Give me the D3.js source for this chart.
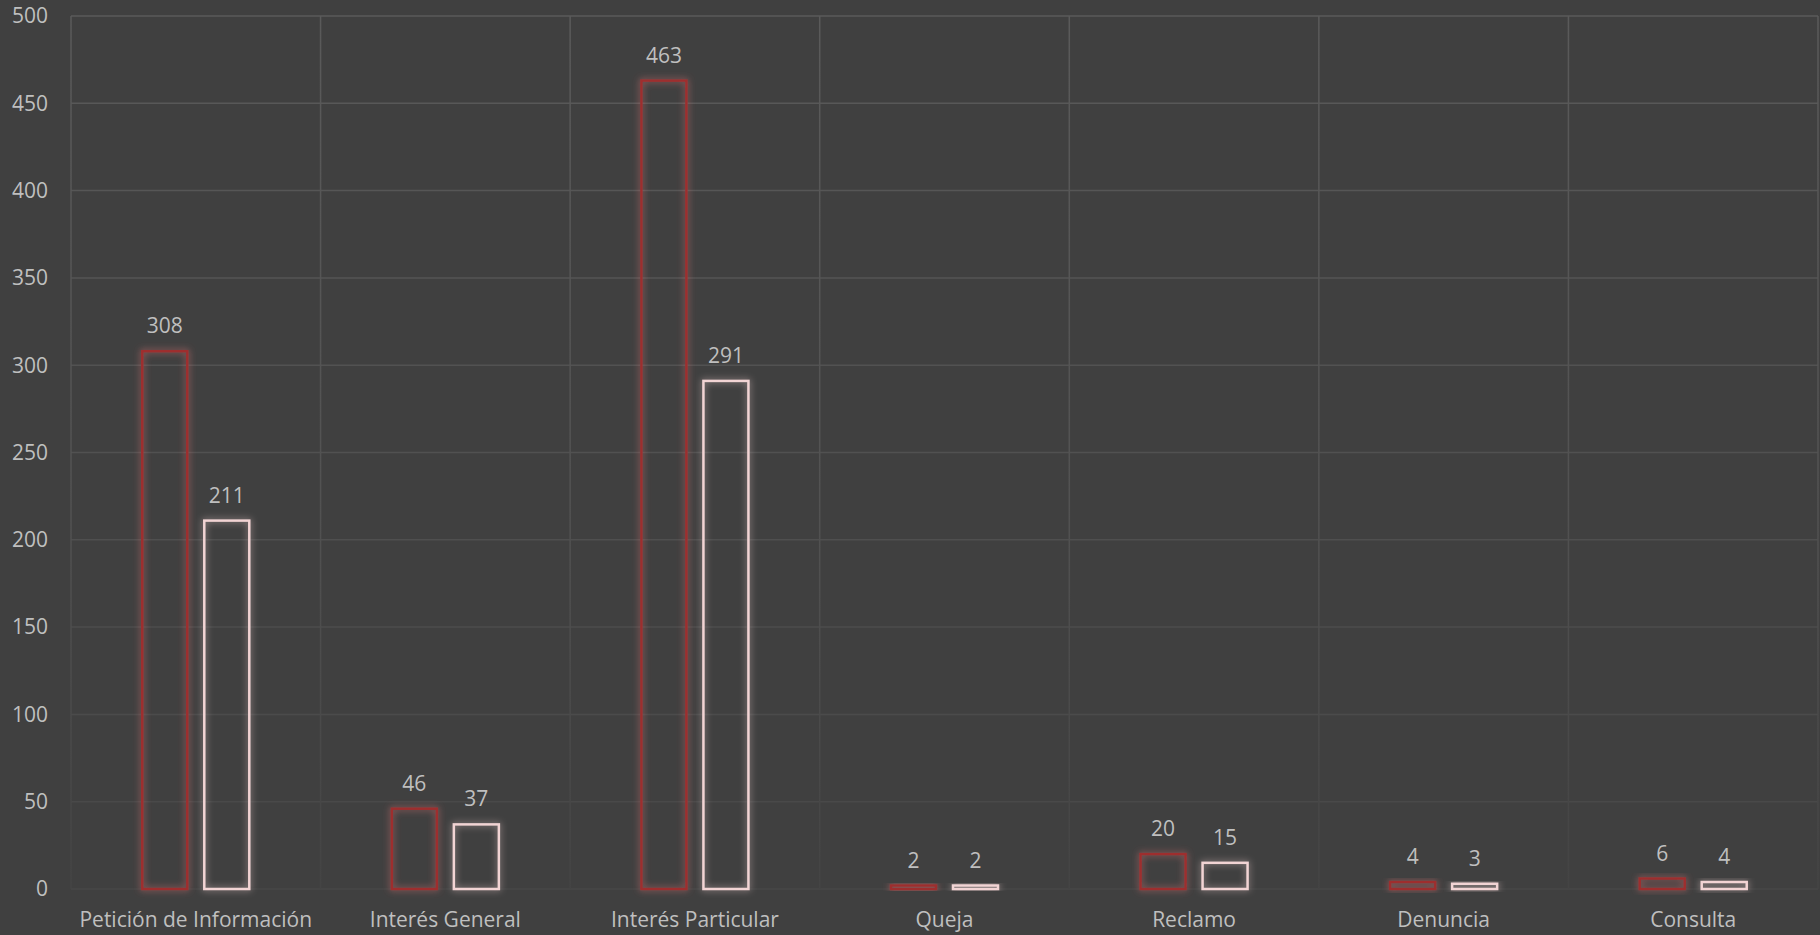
<!DOCTYPE html>
<html>
<head>
<meta charset="utf-8">
<script src="https://cdn.jsdelivr.net/npm/d3@7"></script>
<style>
    html, body { margin: 0; padding: 0; background: #404040; }
    svg { display: block; }
    text { font-family: "Open Sans", Lato, sans-serif; fill: #bfbfbf; }
</style>
</head>
<body>
<script>
    'use strict';

    var categories = ['Petición de Información', 'Interés General', 'Interés Particular',
                      'Queja', 'Reclamo', 'Denuncia', 'Consulta'],
        seriesA = [308, 46, 463, 2, 20, 4, 6],
        seriesB = [211, 37, 291, 2, 15, 3, 4],
        yTicks = [0, 50, 100, 150, 200, 250, 300, 350, 400, 450, 500];

    var width = 1820,
        height = 935,
        margin = { top: 16, right: 2, bottom: 46, left: 71 },
        barWidth = 45,
        barGap = 17,
        fontSize = 21;

    var svg = d3.select('body').append('svg')
        .attr('width', width)
        .attr('height', height);

    var defs = svg.append('defs');

    function glow(id, color) {
        var f = defs.append('filter')
            .attr('id', id)
            .attr('x', '-50%').attr('y', '-50%')
            .attr('width', '200%').attr('height', '200%');
        f.append('feGaussianBlur')
            .attr('in', 'SourceGraphic')
            .attr('stdDeviation', 3.5)
            .attr('result', 'blur');
        f.append('feColorMatrix')
            .attr('in', 'blur')
            .attr('type', 'matrix')
            .attr('values', '0 0 0 0 ' + color[0] + ' 0 0 0 0 ' + color[1] + ' 0 0 0 0 ' + color[2] + ' 0 0 0 0.9 0')
            .attr('result', 'glow');
        var m = f.append('feMerge');
        m.append('feMergeNode').attr('in', 'glow');
        m.append('feMergeNode').attr('in', 'SourceGraphic');
    }
    glow('glowRed', [0.6, 0.15, 0.15]);
    glow('glowPink', [0.55, 0.42, 0.42]);

    var grad = defs.append('linearGradient')
        .attr('id', 'gridFade')
        .attr('gradientUnits', 'userSpaceOnUse')
        .attr('x1', 0).attr('y1', margin.top)
        .attr('x2', 0).attr('y2', height - margin.bottom);
    grad.append('stop').attr('offset', 0).attr('stop-color', '#5a5a5a');
    grad.append('stop').attr('offset', 0.55).attr('stop-color', '#525252');
    grad.append('stop').attr('offset', 1).attr('stop-color', '#444444');

    var x = d3.scaleBand()
        .domain(categories)
        .range([margin.left, width - margin.right]);

    var y = d3.scaleLinear()
        .domain([0, 500])
        .range([height - margin.bottom, margin.top]);

    // Grid
    var grid = svg.append('g').attr('stroke-width', 1.5);

    grid.selectAll('.hline')
        .data(yTicks)
        .enter()
        .append('line')
        .attr('x1', margin.left)
        .attr('x2', width - margin.right)
        .attr('y1', function (d) { return y(d); })
        .attr('y2', function (d) { return y(d); })
        .attr('stroke', function (d) {
            var t = d / 500;
            return d3.interpolateRgb('#474747', '#5a5a5a')(t);
        });

    grid.selectAll('.vline')
        .data(categories.concat(['__end']))
        .enter()
        .append('line')
        .attr('x1', function (d, i) { return margin.left + i * x.bandwidth(); })
        .attr('x2', function (d, i) { return margin.left + i * x.bandwidth(); })
        .attr('y1', margin.top)
        .attr('y2', height - margin.bottom)
        .attr('stroke', 'url(#gridFade)');

    // Y axis labels
    svg.append('g')
        .selectAll('text')
        .data(yTicks)
        .enter()
        .append('text')
        .attr('x', 48)
        .attr('y', function (d) { return y(d); })
        .attr('dy', '0.35em')
        .attr('text-anchor', 'end')
        .attr('font-size', fontSize)
        .text(function (d) { return d; });

    // X labels
    svg.append('g')
        .selectAll('text')
        .data(categories)
        .enter()
        .append('text')
        .attr('x', function (d) { return x(d) + x.bandwidth() / 2; })
        .attr('y', height - 8)
        .attr('text-anchor', 'middle')
        .attr('font-size', fontSize)
        .text(function (d) { return d; });

    var series = [
        { values: seriesA, stroke: '#9e2f2f', fill: 'none', filter: 'url(#glowRed)', offset: -1 },
        { values: seriesB, stroke: '#f2d4d4', fill: 'none', filter: 'url(#glowPink)', offset: 1 }
    ];

    series.forEach(function (s) {
        var g = svg.append('g');
        var cx = function (i) {
            return x(categories[i]) + x.bandwidth() / 2 + s.offset * (barWidth + barGap) / 2;
        };

        g.selectAll('rect')
            .data(s.values)
            .enter()
            .append('rect')
            .attr('x', function (d, i) { return cx(i) - barWidth / 2; })
            .attr('y', function (d) { return y(d); })
            .attr('width', barWidth)
            .attr('height', function (d) { return y(0) - y(d); })
            .attr('fill', s.fill)
            .attr('stroke', s.stroke)
            .attr('stroke-width', 2.5)
            .attr('filter', s.filter);

        g.selectAll('text')
            .data(s.values)
            .enter()
            .append('text')
            .attr('x', function (d, i) { return cx(i); })
            .attr('y', function (d) { return y(d) - 18; })
            .attr('text-anchor', 'middle')
            .attr('font-size', fontSize)
            .text(function (d) { return d; });
    });
</script>
</body>
</html>
